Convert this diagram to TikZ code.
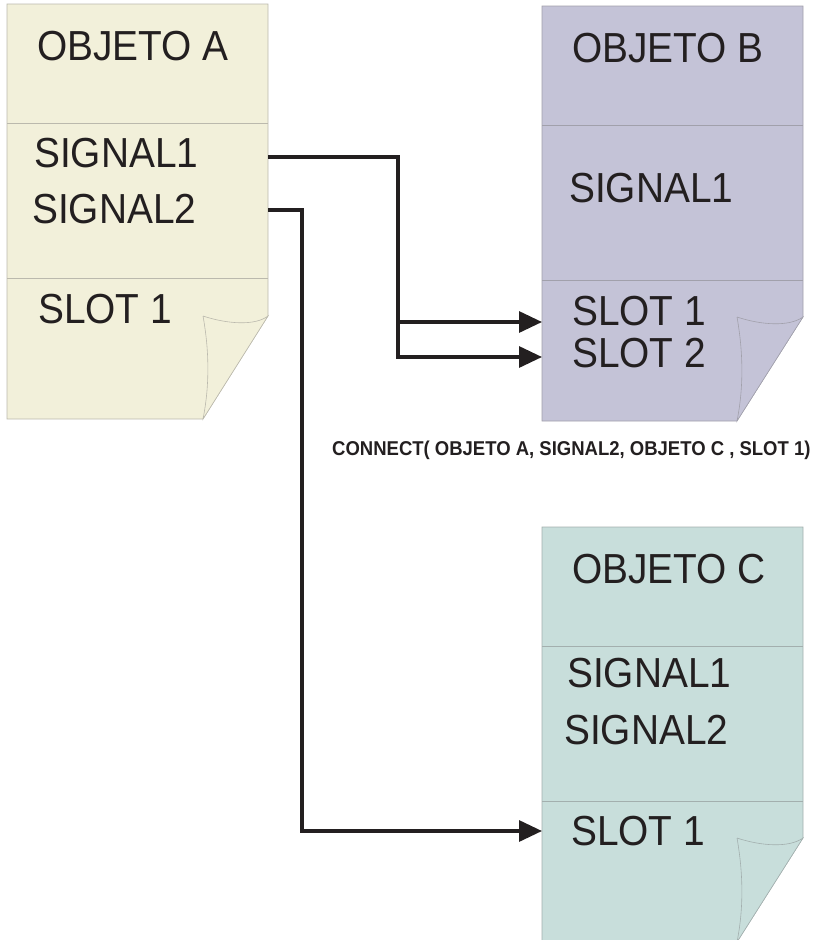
\documentclass[tikz,border=0pt]{standalone}
\usepackage{fontspec}
\setmainfont{Liberation Sans}[FakeStretch=0.925]
\usetikzlibrary{arrows.meta}

\definecolor{ink}{HTML}{231F20}
\definecolor{paperA}{HTML}{F2F0DA}
\definecolor{paperB}{HTML}{C4C3D7}
\definecolor{paperC}{HTML}{C8DEDB}

\tikzset{
  page/.style={draw=#1!70!black!80, line width=0.6pt},
  label/.style={anchor=base west, inner sep=0pt, text=ink,
    font=\fontsize{42}{50}\selectfont},
  wire/.style={draw=ink, line width=3.2pt, line join=miter},
  tip/.style={-{Triangle[length=23pt,width=21pt]}}
}

\begin{document}
\begin{tikzpicture}[x=1pt, y=-1pt]
  \useasboundingbox (0,0) rectangle (839,940);

  % objeto A
  \begin{scope}[shift={(7,4)}]
    \draw[page=paperA, fill=paperA]
      (0,0) -- (261,0) -- (261,312) -- (196,415) -- (0,415) -- cycle;
    \draw[page=paperA] (0,119) -- (261,119) (0,274) -- (261,274);
    \draw[page=paperA, fill=paperA]
      (196,312) .. controls (220,320) and (248,322) .. (261,312)
      -- (196,415) .. controls (203,380) and (202,345) .. (196,312);
    \node[label] (a-title) at (30,56) {OBJETO A};
    \node[label] (a-sig1) at (27,163) {SIGNAL1};
    \node[label] (a-sig2) at (25,219) {SIGNAL2};
    \node[label] (a-slot1) at (31,319) {SLOT 1};
    \coordinate (a-out1) at (261,153);
    \coordinate (a-out2) at (261,206);
  \end{scope}

  % objeto B
  \begin{scope}[shift={(542,6)}]
    \draw[page=paperB, fill=paperB]
      (0,0) -- (261,0) -- (261,311) -- (195,415) -- (0,415) -- cycle;
    \draw[page=paperB] (0,119) -- (261,119) (0,274) -- (261,274);
    \draw[page=paperB, fill=paperB]
      (195,311) .. controls (219,319) and (247,321) .. (261,311)
      -- (195,415) .. controls (202,380) and (201,345) .. (195,311);
    \node[label] (b-title) at (30,56) {OBJETO B};
    \node[label] (b-sig1) at (27,196) {SIGNAL1};
    \node[label] (b-slot1) at (30,319) {SLOT 1};
    \node[label] (b-slot2) at (30,361) {SLOT 2};
    \coordinate (b-in1) at (0,316);
    \coordinate (b-in2) at (0,351);
  \end{scope}

  % objeto C
  \begin{scope}[shift={(542,527)}]
    \draw[page=paperC, fill=paperC]
      (0,0) -- (261,0) -- (261,311) -- (195,415) -- (0,415) -- cycle;
    \draw[page=paperC] (0,119) -- (261,119) (0,274) -- (261,274);
    \draw[page=paperC, fill=paperC]
      (195,311) .. controls (219,319) and (247,321) .. (261,311)
      -- (195,415) .. controls (202,380) and (201,345) .. (195,311);
    \node[label] (c-title) at (30,56) {OBJETO C};
    \node[label] (c-sig1) at (25,160) {SIGNAL1};
    \node[label] (c-sig2) at (22,217) {SIGNAL2};
    \node[label] (c-slot1) at (29,318) {SLOT 1};
    \coordinate (c-in1) at (0,304);
  \end{scope}

  \coordinate (split) at (398,322);
  \coordinate (drop) at (302,831);

  \draw[wire, tip] (a-out1) -| (split) -- (b-in1);
  \draw[wire, tip] (split) |- (b-in2);
  \draw[wire, tip] (a-out2) -| (drop) -- (c-in1);

  \node[anchor=base west, inner sep=0pt, text=ink,
    font=\bfseries\fontsize{20}{24}\selectfont] (call) at (332,455)
    {CONNECT( OBJETO A, SIGNAL2, OBJETO C , SLOT 1)};
\end{tikzpicture}
\end{document}
